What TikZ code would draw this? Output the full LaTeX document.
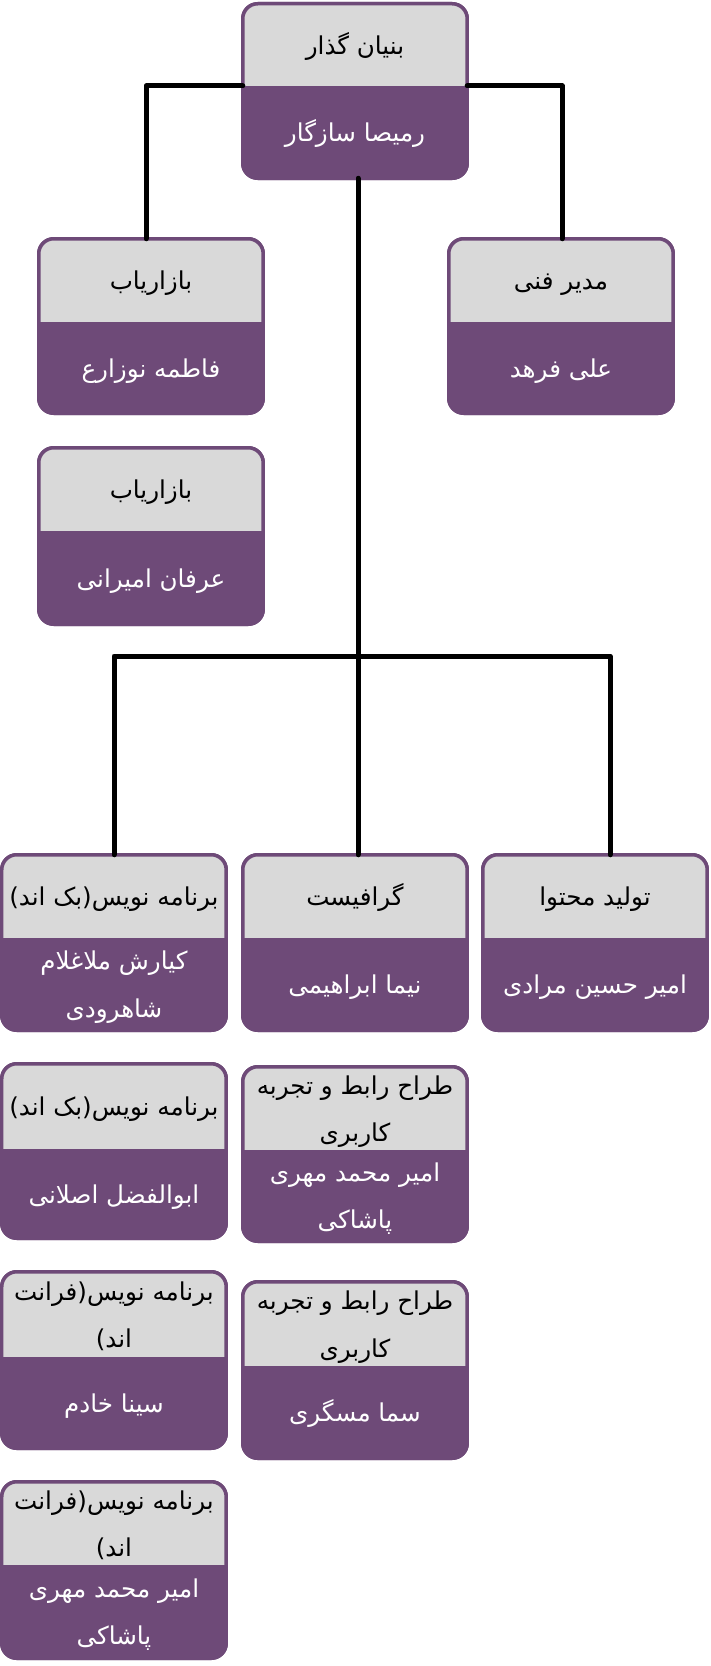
\documentclass[tikz,border=0pt]{standalone}
\usepackage{fontspec}
\newfontfamily\farsifont[Script=Arabic]{DejaVu Sans}
\TeXXeTstate=1
\usetikzlibrary{calc}

\newcommand{\rtltext}[1]{\beginR\strut #1\endR}

% #1 name, #2 left, #3 top, #4 split, #5 bottom, #6 role, #7 person
\newcommand{\orgcard}[7]{%
	\node[card, minimum height={(#5-#3-3.5)*0.02cm}, anchor=north west] (#1) at (#2+1.75,#3+1.75) {};
	\coordinate (#1-split) at (#2+1.75,#4);
	\begin{scope}
		\clip[rounded corners=0.3cm] (#1.south west) rectangle (#1.north east);
		\fill[fill=headgray] (#1.north west) rectangle (#1.east |- #1-split);
	\end{scope}
	\draw[cardborder] (#1.south west) rectangle (#1.north east);
	\node[roletext] (#1-role) at ($(#1.north)!0.5!(#1-split -| #1.north)$) {#6};
	\node[nametext] (#1-name) at ($(#1-split -| #1.south)!0.5!(#1.south)$) {#7};
}

\begin{document}
\begin{tikzpicture}[x=0.02cm, y=-0.02cm,
	card/.style={rectangle, rounded corners=0.3cm, fill=cardpurple, draw=cardpurple,
		line width=0.07cm, minimum width=4.49cm, inner sep=0pt, outer sep=0pt},
	cardborder/.style={draw=cardpurple, line width=0.07cm, rounded corners=0.3cm},
	roletext/.style={font=\farsifont\fontsize{14pt}{27pt}\selectfont, align=center, text=black, inner sep=0pt},
	nametext/.style={font=\farsifont\fontsize{14pt}{27pt}\selectfont, align=center, text=white, inner sep=0pt},
	link/.style={line width=0.1cm, line cap=round, line join=round, black}]

	\definecolor{cardpurple}{HTML}{6E4A78}
	\definecolor{headgray}{HTML}{D9D9D9}

	\useasboundingbox (0,0) rectangle (710,1666);

	% top
	\orgcard{founder}{241}{2}{86}{180}{\rtltext{بنیان گذار}}{\rtltext{رمیصا سازگار}}

	% side roles
	\orgcard{market1}{37}{237}{322}{415}{\rtltext{بازاریاب}}{\rtltext{فاطمه نوزارع}}
	\orgcard{tech}{447}{237}{322}{415}{\rtltext{مدیر فنی}}{\rtltext{علی فرهد}}
	\orgcard{market2}{37}{446}{531}{626}{\rtltext{بازاریاب}}{\rtltext{عرفان امیرانی}}

	% teams
	\orgcard{back1}{0}{853}{938}{1032}{\rtltext{برنامه نویس(بک اند)}}{\rtltext{کیارش ملاغلام}\\\rtltext{شاهرودی}}
	\orgcard{graphic}{241}{853}{938}{1032}{\rtltext{گرافیست}}{\rtltext{نیما ابراهیمی}}
	\orgcard{content}{481}{853}{938}{1032}{\rtltext{تولید محتوا}}{\rtltext{امیر حسین مرادی}}

	\orgcard{back2}{0}{1062}{1149}{1240}{\rtltext{برنامه نویس(بک اند)}}{\rtltext{ابوالفضل اصلانی}}
	\orgcard{ux1}{241}{1065}{1150}{1243}{\rtltext{طراح رابط و تجربه}\\\rtltext{کاربری}}{\rtltext{امیر محمد مهری}\\\rtltext{پاشاکی}}
	\orgcard{front1}{0}{1270}{1357}{1450}{\rtltext{برنامه نویس(فرانت}\\\rtltext{اند)}}{\rtltext{سینا خادم}}
	\orgcard{ux2}{241}{1280}{1366}{1460}{\rtltext{طراح رابط و تجربه}\\\rtltext{کاربری}}{\rtltext{سما مسگری}}
	\orgcard{front2}{0}{1480}{1565}{1660}{\rtltext{برنامه نویس(فرانت}\\\rtltext{اند)}}{\rtltext{امیر محمد مهری}\\\rtltext{پاشاکی}}

	% founder bar
	\coordinate (barL) at (146,86);
	\coordinate (barR) at (562,86);
	\draw[link] (founder-split) -| (barL |- market1.north);
	\draw[link] (founder-split -| founder.east) -| (barR |- tech.north);

	% spine and bus
	\coordinate (spine) at (358,656);
	\coordinate (busL) at (114,656);
	\coordinate (busR) at (610,656);
	\draw[link] (spine |- founder.south) -- (spine |- graphic.north);
	\draw[link] (busL |- back1.north) -- (busL) -- (busR) -- (busR |- content.north);

\end{tikzpicture}
\end{document}
